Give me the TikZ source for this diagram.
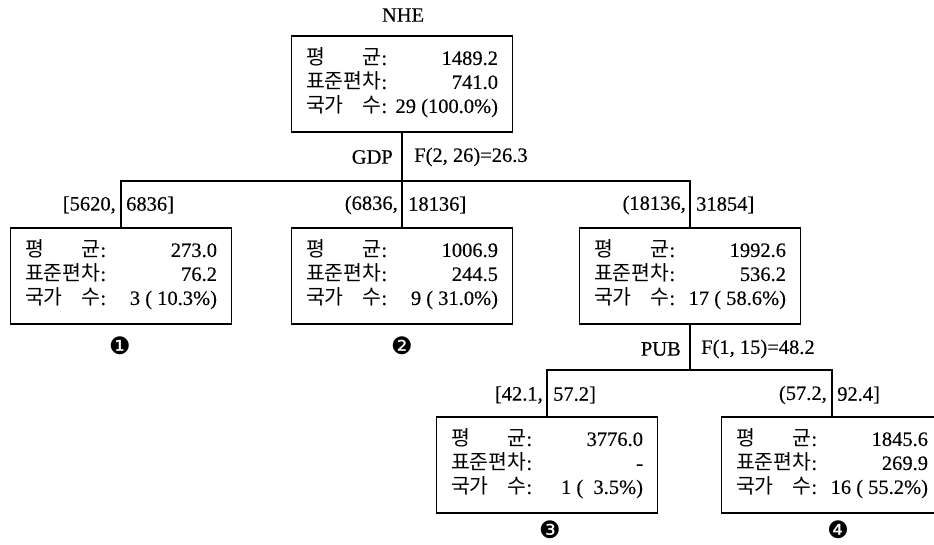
\documentclass[tikz,border=0pt]{standalone}
\usepackage{fontspec}
\setmainfont[FakeBold=0.3]{Liberation Serif}
\newfontfamily\kr{Noto Sans CJK KR}
\newfontfamily\dingfont{DejaVu Sans}
\usetikzlibrary{positioning}

% three rows of one node: mean, standard deviation, number of countries
\newcommand\stattab[3]{%
  \begin{tabular*}{192pt}{@{}l@{\extracolsep{\fill}}r@{}}
    {\kr 평}\hfill{\kr 균}: & #1\\
    {\kr 표준편차}: & #2\\
    {\kr 국가}\hfill{\kr 수}: & #3
  \end{tabular*}}

\begin{document}
\begin{tikzpicture}[
    x=1pt, y=-1pt,
    font=\fontsize{20.5}{23.5}\selectfont,
    stat/.style={draw, line width=1.2pt, minimum width=221pt, minimum height=96pt,
                 inner sep=0pt},
    lbl/.style={inner sep=0pt},
    link/.style={line width=1.2pt},
    tag/.style={font=\dingfont\fontsize{24}{24}\selectfont, inner sep=0pt},
]
\path[use as bounding box, clip] (0,0) rectangle (934,545);

% 뿌리: NHE
\node[lbl] (nhe) at (403,15) {NHE};
\node[stat] (root) at (402,84) {\stattab{1489.2}{741.0}{29 (100.0\%)}};

% 첫째 분할: GDP
\coordinate (gdp) at (402,181);
\node[lbl, anchor=east] (gdpname) at (393,157) {GDP};
\node[lbl, anchor=west] (gdptest) at (414,157) {F(2, 26)=26.3};

\node[stat] (low) at (121,276) {\stattab{273.0}{76.2}{3 ( 10.3\%)}};
\node[stat] (mid) at (402,276) {\stattab{1006.9}{244.5}{9 ( 31.0\%)}};
\node[stat] (high) at (690,276) {\stattab{1992.6}{536.2}{17 ( 58.6\%)}};

\node[lbl, anchor=east] (lowfrom) at (116,205) {[5620,};
\node[lbl, anchor=west] (lowto) at (126,205) {6836]};
\node[lbl, anchor=east] (midfrom) at (398,205) {(6836,};
\node[lbl, anchor=west] (midto) at (408,205) {18136]};
\node[lbl, anchor=east] (highfrom) at (686,205) {(18136,};
\node[lbl, anchor=west] (highto) at (696,205) {31854]};

% 둘째 분할: PUB
\coordinate (pub) at (690,370);
\node[lbl, anchor=east] (pubname) at (681,349) {PUB};
\node[lbl, anchor=west] (pubtest) at (701,349) {F(1, 15)=48.2};

\node[stat] (pubA) at (547,465) {\stattab{3776.0}{-}{1 (~~3.5\%)}};
\node[stat] (pubB) at (832,465) {\stattab{1845.6}{269.9}{16 ( 55.2\%)}};

\node[lbl, anchor=east] (pubAfrom) at (543,395) {[42.1,};
\node[lbl, anchor=west] (pubAto) at (553,395) {57.2]};
\node[lbl, anchor=east] (pubBfrom) at (827,395) {(57.2,};
\node[lbl, anchor=west] (pubBto) at (837,395) {92.4]};

% 연결선
\draw[link] (root.south) -- (gdp);
\draw[link] (low.north) -- (low.north |- gdp) -- (high.north |- gdp) -- (high.north);
\draw[link] (gdp) -- (mid.north);
\draw[link] (high.south) -- (pub);
\draw[link] (pubA.north) -- (pubA.north |- pub) -- (pubB.north |- pub) -- (pubB.north);

% 번호
\node[tag] (n1) at (120,346) {❶};
\node[tag] (n2) at (402,346) {❷};
\node[tag] (n3) at (550,530) {❸};
\node[tag] (n4) at (838,530) {❹};

\end{tikzpicture}
\end{document}
